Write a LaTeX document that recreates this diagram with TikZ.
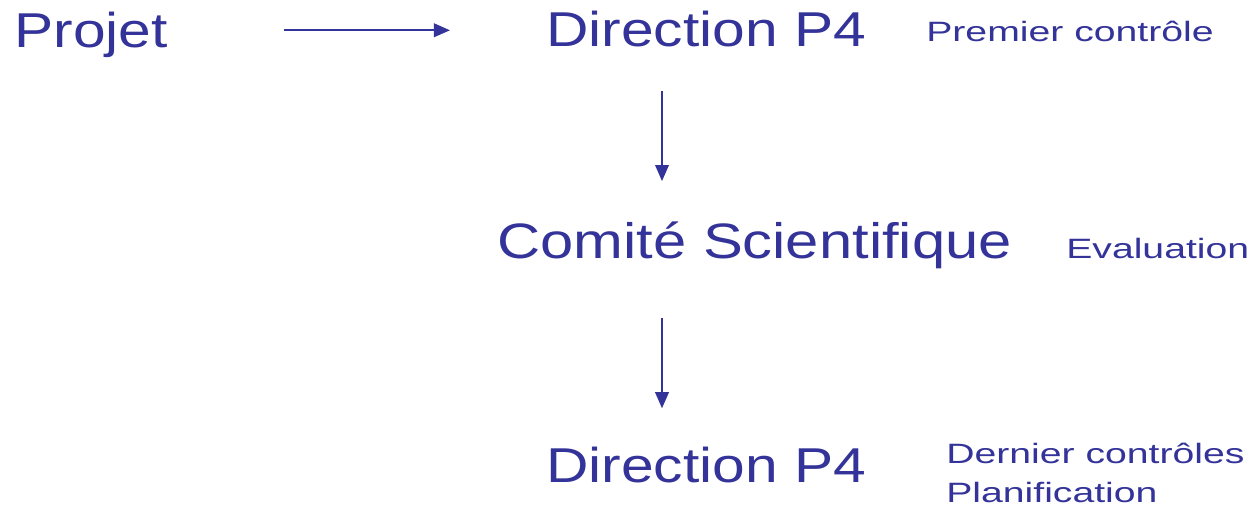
\documentclass[tikz,border=0pt]{standalone}
\usepackage{fontspec}
\usepackage{tikz}
\usetikzlibrary{arrows.meta,positioning}
\definecolor{circuitInk}{HTML}{333399}
\newfontfamily\stagefont[FakeStretch=1.2]{Liberation Sans}
\newfontfamily\notefont[FakeStretch=1.4]{Liberation Sans}

\begin{document}
\begin{tikzpicture}[
  x=0.025cm, y=-0.025cm,
  stage/.style={anchor=base west,inner sep=0pt,text depth=0pt,circuitInk,
                font=\stagefont\fontsize{34.8}{40}\selectfont},
  note/.style={anchor=base west,inner sep=0pt,circuitInk,align=left,
               font=\notefont\fontsize{19.9}{27.7}\selectfont},
  arr/.style={-{Triangle[length=0.4cm,width=0.34cm]},circuitInk,line width=1.2pt}
]
\useasboundingbox (0,0) rectangle (1256,512);

% Stages of the circuit
\node[stage] (projet) at (14,48)   {Projet};
\node[stage] (dirA)   at (546,47)  {Direction P4};
\node[stage,font=\stagefont\fontsize{35.4}{40}\selectfont]
             (comite) at (497,258) {Comité Scientifique};
\node[stage] (dirB)   at (546,482) {Direction P4};

% Notes (right); base of a two-line note is its last line
\node[note] (noteA) at (926,42)  {Premier contrôle};
\node[note] (noteB) at (1066,258) {Evaluation};
\node[note] (noteC) at (946,502) {Dernier contrôles\\Planification};

% Column of the vertical arrows
\coordinate (stem) at (662,0);

% Arrows
\draw[arr,shorten <=2.9cm,shorten >=2.4cm] (projet.east) -- (dirA.west |- projet.east);
\draw[arr,shorten <=1.1cm,shorten >=1.0cm] (dirA.south -| stem) -- (comite.north -| stem);
\draw[arr,shorten <=1.5cm,shorten >=0.95cm] (comite.south -| stem) -- (dirB.north -| stem);
\end{tikzpicture}
\end{document}
